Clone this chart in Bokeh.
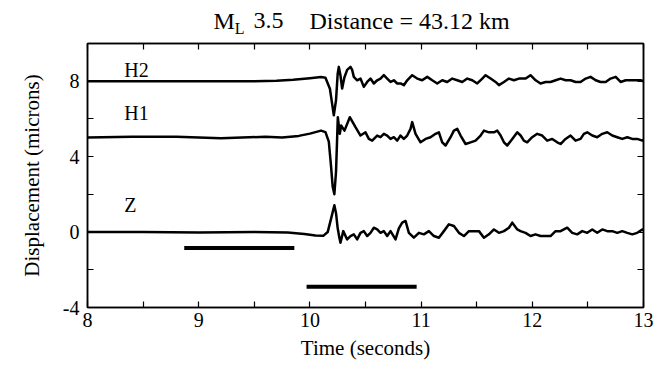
from bokeh.plotting import figure
from bokeh.models import LinearAxis, FixedTicker, CustomJSTickFormatter, Range1d, Label
from bokeh.layouts import column
from bokeh.core.properties import value
from bokeh.embed import file_html
from bokeh.resources import INLINE

# ---------------- data ----------------
h2_t = [8.0, 8.5, 9.0, 9.5, 9.7, 9.85, 10.0, 10.1, 10.14, 10.18, 10.2, 10.215, 10.235, 10.25,
        10.26, 10.275, 10.29, 10.31, 10.335, 10.365, 10.38, 10.395, 10.425, 10.455, 10.485,
        10.515, 10.545, 10.575, 10.605, 10.635, 10.665, 10.695, 10.725, 10.755, 10.785, 10.815,
        10.845, 10.875, 10.92, 10.965, 11.01, 11.055, 11.1, 11.145, 11.19, 11.235, 11.28, 11.325,
        11.37, 11.415, 11.46, 11.505, 11.55, 11.58, 11.625, 11.67, 11.7, 11.745, 11.79, 11.835,
        11.88, 11.94, 11.984, 12.03, 12.074, 12.12, 12.164, 12.21, 12.254, 12.3, 12.344, 12.39,
        12.434, 12.48, 12.524, 12.57, 12.614, 12.66, 12.704, 12.75, 12.794, 12.84, 12.884, 12.93,
        12.974, 13.0]
h2_v = [8.0, 8.0, 8.0, 8.0, 8.02, 8.08, 8.16, 8.22, 8.18, 7.6, 6.8, 6.19, 7.0, 8.4,
        8.76, 8.3, 7.61, 8.2, 8.6, 8.76, 8.6, 8.23, 8.05, 8.14, 7.70,
        7.96, 8.14, 7.88, 8.05, 8.14, 8.32, 8.14, 7.96, 8.05, 7.88, 7.88,
        7.79, 8.05, 8.32, 8.14, 8.05, 8.23, 8.05, 7.88, 8.05, 7.96, 8.14, 8.05,
        7.96, 8.14, 8.05, 7.88, 8.14, 8.32, 8.14, 7.96, 7.79, 7.96, 8.14, 8.05,
        8.14, 8.14, 8.32, 8.05, 7.88, 7.96, 7.96, 8.05, 8.14, 8.05, 8.05, 7.96,
        7.96, 8.14, 8.23, 8.05, 7.96, 7.96, 8.14, 8.23, 7.96, 8.05, 8.05, 8.05,
        8.05, 8.0]

h1_t = [8.0, 8.4, 8.8, 9.2, 9.6, 9.75, 9.9, 10.0, 10.1, 10.14, 10.17, 10.19, 10.205, 10.22,
        10.235, 10.245, 10.251, 10.269, 10.281, 10.311, 10.359, 10.41, 10.455, 10.5, 10.53,
        10.56, 10.605, 10.635, 10.665, 10.695, 10.725, 10.755, 10.785, 10.815, 10.845, 10.875,
        10.905, 10.92, 10.95, 10.995, 11.04, 11.085, 11.13, 11.16, 11.19, 11.22, 11.265, 11.295,
        11.325, 11.355, 11.4, 11.445, 11.49, 11.535, 11.565, 11.61, 11.655, 11.685, 11.715,
        11.745, 11.775, 11.82, 11.865, 11.895, 11.924, 11.954, 11.999, 12.044, 12.089, 12.134,
        12.179, 12.224, 12.254, 12.299, 12.344, 12.389, 12.434, 12.464, 12.494, 12.539, 12.584,
        12.629, 12.674, 12.719, 12.764, 12.809, 12.854, 12.899, 12.944, 12.989, 13.0]
h1_v = [5.02, 5.05, 5.06, 4.98, 5.05, 5.02, 5.1, 5.22, 5.38, 5.3, 4.8, 3.5, 2.4, 2.01,
        3.2, 5.0, 6.09, 5.21, 5.65, 5.38, 6.09, 5.56, 5.12, 5.29, 4.94,
        4.85, 5.12, 5.03, 5.21, 5.12, 4.94, 5.03, 4.85, 5.12, 4.94, 5.12,
        5.47, 5.83, 5.21, 4.76, 4.94, 5.03, 5.21, 5.29, 4.76, 4.59, 5.03, 5.38,
        5.47, 5.12, 4.67, 4.76, 4.85, 5.12, 5.38, 5.29, 5.29, 5.38, 5.12,
        4.76, 4.59, 4.94, 5.29, 5.12, 4.85, 4.76, 5.03, 5.21, 5.12, 4.85,
        4.94, 4.76, 4.67, 4.94, 5.12, 4.85, 4.94, 5.21, 5.29, 5.12, 5.03,
        5.21, 5.29, 5.12, 5.03, 4.94, 5.03, 4.94, 4.94, 4.85, 4.9]

z_t = [8.0, 8.5, 9.0, 9.5, 9.8, 9.95, 10.05, 10.12, 10.16, 10.19, 10.22, 10.235, 10.25, 10.265,
       10.275, 10.3, 10.335, 10.365, 10.395, 10.425, 10.455, 10.485, 10.515, 10.545, 10.575,
       10.605, 10.635, 10.665, 10.695, 10.725, 10.77, 10.8, 10.83, 10.86, 10.89, 10.935, 10.98,
       11.025, 11.07, 11.115, 11.16, 11.205, 11.25, 11.295, 11.34, 11.385, 11.43, 11.475, 11.52,
       11.565, 11.61, 11.655, 11.7, 11.745, 11.79, 11.82, 11.865, 11.894, 11.939, 11.984,
       12.029, 12.074, 12.119, 12.164, 12.209, 12.254, 12.314, 12.359, 12.404, 12.449, 12.494,
       12.539, 12.584, 12.629, 12.674, 12.719, 12.764, 12.809, 12.854, 12.899, 12.944, 12.989,
       13.0]
z_v = [0.0, 0.0, -0.02, 0.0, -0.02, -0.1, -0.18, -0.2, 0.0, 0.7, 1.42, 1.0, 0.2, -0.3,
       -0.57, 0.05, -0.39, -0.21, -0.12, -0.39, -0.04, 0.05, -0.21, -0.04, 0.23,
       0.14, -0.04, 0.05, -0.21, 0.05, -0.39, 0.2, 0.5, 0.59, -0.04, -0.30, -0.04,
       -0.12, 0.05, -0.21, -0.30, 0.05, 0.41, 0.32, -0.04, -0.21, 0.05, 0.05, 0.05,
       -0.30, -0.12, 0.14, -0.04, 0.05, 0.23, 0.50, 0.14, 0.05, -0.04, -0.21,
       -0.12, -0.21, -0.21, -0.21, 0.05, 0.05, 0.23, -0.04, -0.12, 0.05, -0.04,
       0.14, -0.04, 0.14, 0.05, 0.05, -0.04, 0.05, -0.04, -0.12, -0.04, 0.14,
       0.1]

bar_start = [8.87, 9.97]
bar_end = [9.86, 10.96]
bar_level = [-0.85, -2.9]

trace_names = ["H2", "H1", "Z"]
trace_label_t = [8.33, 8.33, 8.33]
trace_label_v = [8.57, 6.3, 1.46]

title_texts = ["M", "L", "3.5", "Distance = 43.12 km"]
title_t = [9.133, 9.325, 9.493, 9.996]
title_base = [16, 8, 16, 16]
title_sizes = ["24px", "16px", "24px", "24px"]

x_major = [8, 9, 10, 11, 12, 13]
x_minor = [8.5, 9.5, 10.5, 11.5, 12.5]
y_major = [-4, 0, 4, 8]
y_minor = [-2, 2, 6, 10]

FONT = "Liberation Serif"
TITLE_H = 36
MAIN_H = 366 - TITLE_H

# ---------------- title strip ----------------
pt = figure(width=669, height=TITLE_H, x_range=Range1d(8, 13), y_range=Range1d(0, TITLE_H),
            output_backend="svg", toolbar_location=None, title=None,
            min_border_left=87, min_border_right=26, min_border_top=0, min_border_bottom=0)
pt.axis.visible = False
pt.xgrid.visible = False
pt.ygrid.visible = False
pt.outline_line_color = None
pt.background_fill_color = "white"
pt.border_fill_color = "white"
for txt, tx, ty, fs in zip(title_texts, title_t, title_base, title_sizes):
    pt.text(x=[tx], y=[ty], text=[txt], text_font=value(FONT), text_font_size=fs,
            text_color="black", text_baseline="alphabetic", text_align="left")

# ---------------- main plot ----------------
p = figure(width=669, height=MAIN_H, x_range=Range1d(8, 13), y_range=Range1d(-4, 10),
           output_backend="svg", toolbar_location=None, title=None,
           min_border_left=87, min_border_right=26, min_border_top=7, min_border_bottom=59)
p.xgrid.visible = False
p.ygrid.visible = False
p.background_fill_color = "white"
p.border_fill_color = "white"
p.outline_line_color = "black"
p.outline_line_width = 1.5

def style_axis(ax, ticker, show_labels=True):
    ax.ticker = ticker
    ax.major_tick_in = 6
    ax.major_tick_out = 0
    ax.minor_tick_in = 6
    ax.minor_tick_out = 0
    ax.major_tick_line_color = "black"
    ax.minor_tick_line_color = "black"
    ax.major_tick_line_width = 1.2
    ax.minor_tick_line_width = 1.2
    ax.axis_line_color = "black"
    ax.axis_line_width = 1.5
    ax.major_label_text_font = FONT
    ax.major_label_text_font_size = "20px"
    ax.major_label_text_color = "black"
    ax.axis_label_text_font = FONT
    ax.axis_label_text_font_size = "21px"
    ax.axis_label_text_font_style = "normal"
    ax.axis_label_text_color = "black"
    if show_labels:
        ax.formatter = CustomJSTickFormatter(code="return tick.toString()")
    else:
        ax.formatter = CustomJSTickFormatter(code="return ''")
        ax.major_label_standoff = 0
        ax.major_label_text_font_size = "0px"

style_axis(p.xaxis[0], FixedTicker(ticks=x_major, minor_ticks=x_minor))
style_axis(p.yaxis[0], FixedTicker(ticks=y_major, minor_ticks=y_minor))
p.xaxis[0].axis_label = "Time (seconds)"
p.xaxis[0].major_label_standoff = 5
p.xaxis[0].axis_label_standoff = 6
p.yaxis[0].axis_label = "Displacement (microns)"
p.yaxis[0].major_label_standoff = 8
p.yaxis[0].axis_label_standoff = 16

top = LinearAxis()
style_axis(top, FixedTicker(ticks=x_major, minor_ticks=x_minor), show_labels=False)
p.add_layout(top, "above")
right = LinearAxis()
style_axis(right, FixedTicker(ticks=y_major, minor_ticks=y_minor), show_labels=False)
p.add_layout(right, "right")

for t, v in ((h2_t, h2_v), (h1_t, h1_v), (z_t, z_v)):
    p.line(t, v, line_color="black", line_width=2.5, line_join="round")

for s, e, lv in zip(bar_start, bar_end, bar_level):
    p.line([s, e], [lv, lv], line_color="black", line_width=4)

for name, tx, ty in zip(trace_names, trace_label_t, trace_label_v):
    p.add_layout(Label(x=tx, y=ty, text=name, text_font=FONT, text_font_size="20px",
                       text_color="black", text_baseline="alphabetic", text_align="left"))

layout = column(pt, p, spacing=0)
open("out.html", "w").write(file_html(layout, INLINE))
